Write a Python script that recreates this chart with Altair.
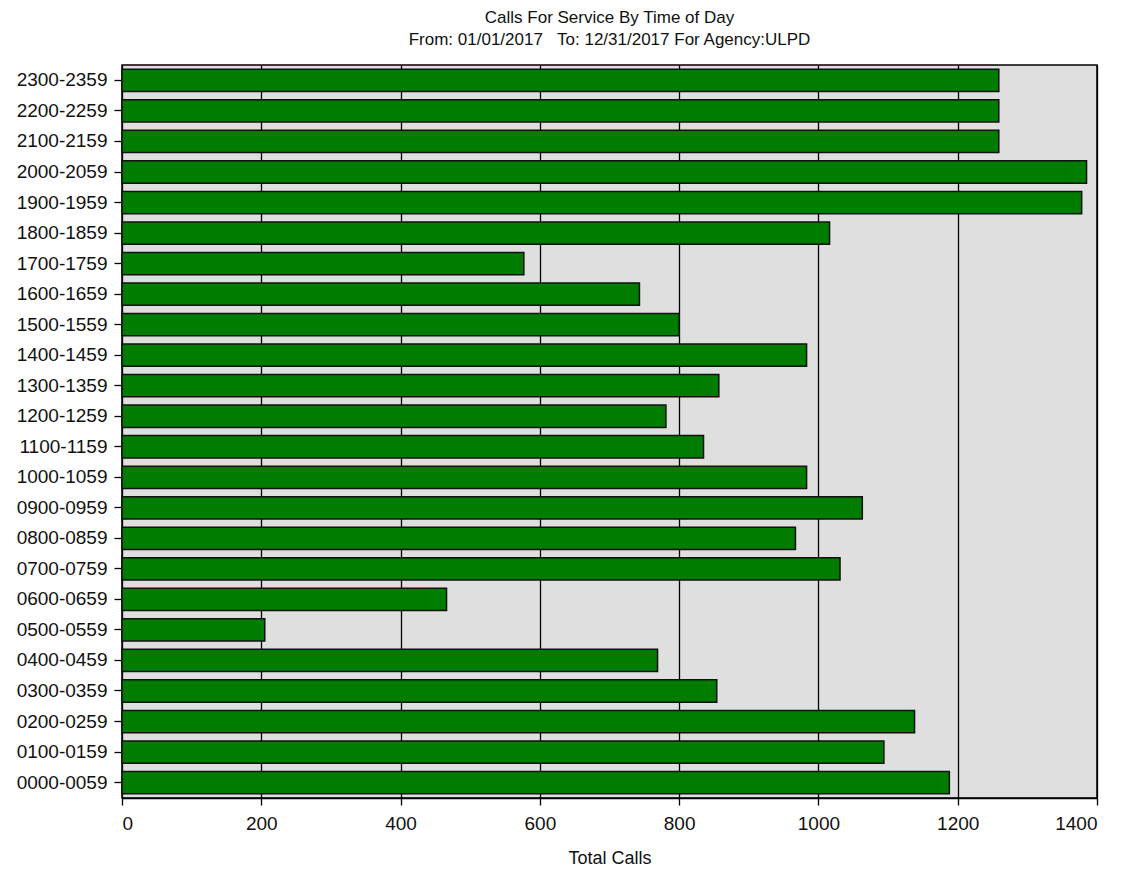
import altair as alt
import pandas as pd

periods = ["0000-0059", "0100-0159", "0200-0259", "0300-0359", "0400-0459", "0500-0559",
           "0600-0659", "0700-0759", "0800-0859", "0900-0959", "1000-1059", "1100-1159",
           "1200-1259", "1300-1359", "1400-1459", "1500-1559", "1600-1659", "1700-1759",
           "1800-1859", "1900-1959", "2000-2059", "2100-2159", "2200-2259", "2300-2359"]
calls = [1188, 1094, 1138, 854, 769, 205,
         466, 1031, 967, 1063, 983, 835,
         781, 857, 983, 800, 743, 577,
         1016, 1378, 1385, 1259, 1259, 1259]
x_ticks = [0, 200, 400, 600, 800, 1000, 1200, 1400]

df = pd.DataFrame({"period": periods, "calls": calls})
font = "Liberation Sans"
nb = "\u00a0"

chart = alt.Chart(df).mark_bar(
    color="#007c00", stroke="#111111", strokeWidth=1.5
).encode(
    x=alt.X("calls:Q", title="Total Calls",
            scale=alt.Scale(domain=[0, 1400], nice=False),
            axis=alt.Axis(values=x_ticks, format="d", grid=True, gridColor="#000000",
                          gridWidth=1.3, gridOpacity=1, domainColor="#000000", domainWidth=1.5,
                          tickColor="#000000", tickSize=7, tickWidth=1.3,
                          labelFont=font, labelFontSize=19, labelColor="#111111",
                          labelPadding=9, titleFont=font, titleFontSize=18,
                          titleFontWeight="normal", titleColor="#111111", titlePadding=16)),
    y=alt.Y("period:N", title=None, sort=list(reversed(periods)),
            scale=alt.Scale(paddingInner=0.27, paddingOuter=0.14),
            axis=alt.Axis(grid=False, domain=False, tickColor="#000000", tickSize=8,
                          tickWidth=1.3, labelFont=font, labelFontSize=19,
                          labelColor="#111111", labelPadding=7)),
).properties(
    width=975, height=733,
    title=alt.TitleParams(
        text=["Calls For Service By Time of Day",
              f"From: 01/01/2017{nb}{nb}{nb}To: 12/31/2017 For Agency:ULPD"],
        font=font, fontSize=17, fontWeight="normal", color="#111111",
        anchor="middle", lineHeight=22, offset=16),
    autosize=alt.AutoSizeParams(type="none"),
    padding={"left": 114, "top": 57, "right": 20, "bottom": 75},
).configure_view(
    fill="#dfdfdf", stroke="#000000", strokeWidth=1.5
)

chart.save("out.html", embed_options={"renderer": "svg", "actions": False})
